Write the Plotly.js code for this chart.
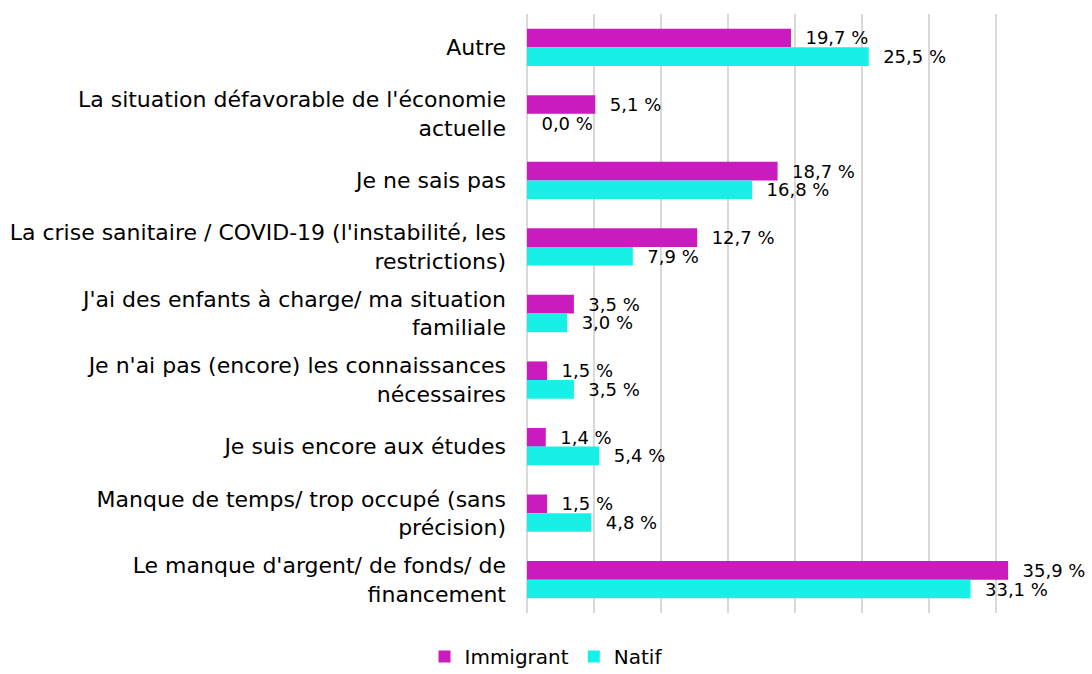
<!DOCTYPE html>
<html>
<head>
<meta charset="utf-8">
<script src="https://cdn.plot.ly/plotly-3.0.1.min.js"></script>
<style>html,body{margin:0;padding:0;background:#fff;}#chart{width:1092px;height:674px;}</style>
</head>
<body>
<div id="chart"></div>
<script>
const categories = [
  "Autre",
  "La situation défavorable de l'économie<br>actuelle",
  "Je ne sais pas",
  "La crise sanitaire / COVID-19 (l'instabilité, les<br>restrictions)",
  "J'ai des enfants à charge/ ma situation<br>familiale",
  "Je n'ai pas (encore) les connaissances<br>nécessaires",
  "Je suis encore aux études",
  "Manque de temps/ trop occupé (sans<br>précision)",
  "Le manque d'argent/ de fonds/ de<br>financement"
];
const immigrant = [19.7, 5.1, 18.7, 12.7, 3.5, 1.5, 1.4, 1.5, 35.9];
const natif = [25.5, 0.0, 16.8, 7.9, 3.0, 3.5, 5.4, 4.8, 33.1];
const seriesNames = ["Immigrant", "Natif"];

const FONT = "'DejaVu Sans', sans-serif";
const pad = "\u00A0\u00A0";
function mk(name, vals, color) {
  return {
    type: 'bar', orientation: 'h', name: name,
    y: categories, x: vals,
    marker: {color: color},
    text: vals.map(v => pad + v.toFixed(1).replace('.', ',') + '\u00A0%'),
    textposition: 'outside', cliponaxis: false, constraintext: 'none',
    textfont: {family: FONT, size: 18, color: '#000'},
    hoverinfo: 'x+y'
  };
}
const data = [mk(seriesNames[0], immigrant, '#C91BBE'), mk(seriesNames[1], natif, '#16F0E6')];
const layout = {
  width: 1092, height: 674,
  margin: {l: 527, r: 29, t: 14, b: 61, autoexpand: false},
  barmode: 'group', bargap: 0.44, bargroupgap: 0,
  paper_bgcolor: '#fff', plot_bgcolor: '#fff',
  font: {family: FONT, size: 22, color: '#000'},
  xaxis: {range: [0, 40], dtick: 5, showticklabels: false, ticks: '',
          showgrid: true, gridcolor: '#d9d9d9', gridwidth: 1.5,
          zeroline: true, zerolinecolor: '#d9d9d9', zerolinewidth: 1.5, fixedrange: true},
  yaxis: {autorange: 'reversed', ticks: '', showgrid: false, ticklabelstandoff: 20,
          tickfont: {family: FONT, size: 22, color: '#000'}},
  legend: {orientation: 'h', x: 0.5, xref: 'container', xanchor: 'center', y: -0.04, yref: 'paper', yanchor: 'top',
           font: {family: FONT, size: 20, color: '#000'}, traceorder: 'normal', itemwidth: 20},
  showlegend: true
};
Plotly.newPlot('chart', data, layout, {displayModeBar: false, staticPlot: true});
</script>
</body>
</html>
